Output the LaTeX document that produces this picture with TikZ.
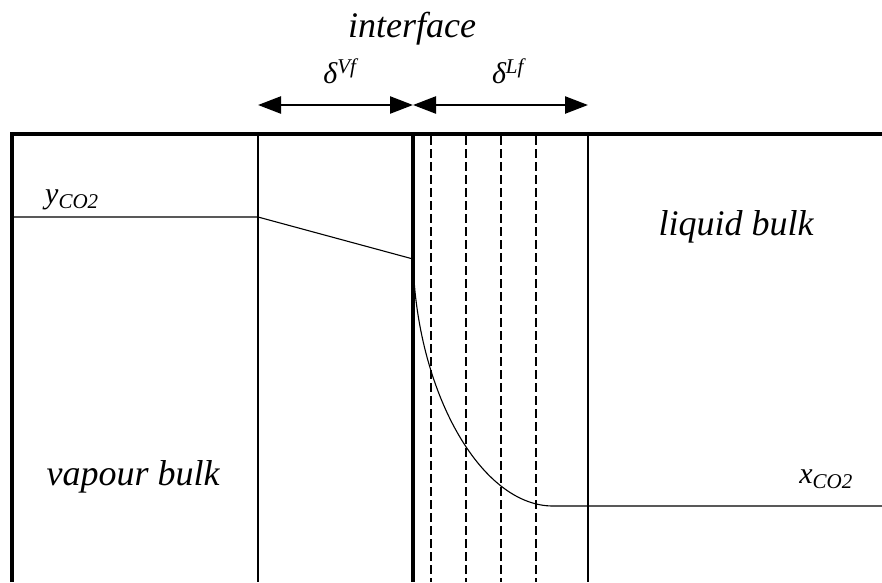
\documentclass[tikz,border=0pt]{standalone}
\usepackage{fontspec}
\setmainfont{Liberation Serif}
\usetikzlibrary{arrows.meta,calc,positioning}

\tikzset{
  wall/.style={line width=3.8pt},
  film/.style={line width=1.1pt},
  sublayer/.style={line width=1.4pt,dash pattern=on 9pt off 4pt},
  profile/.style={line width=1.1pt},
  width arrow/.style={line width=2.4pt,{Triangle[length=23pt,width=17pt]}-{Triangle[length=23pt,width=17pt]}},
  lbl/.style={font=\itshape\fontsize{36}{36}\selectfont,inner sep=0pt},
  sym/.style={font=\itshape\fontsize{30}{30}\selectfont,inner sep=0pt}
}

\begin{document}
\begin{tikzpicture}[x=1pt,y=-1pt]
  \useasboundingbox (0,0) rectangle (882,582);
  % walls and film boundaries
  \coordinate (tl) at (12,134);
  \coordinate (bl) at (12,582);
  \coordinate (tr) at (882,134);
  \coordinate (it) at (413,134);
  \coordinate (ib) at (413,582);
  \draw[wall] (bl) -- (tl) -- (tr);
  \draw[film] (258,134) -- (258,582);
  \draw[film] (588,134) -- (588,582);
  \foreach \x in {431,466,501,536} \draw[sublayer] (\x,136) -- (\x,582);
  % concentration profiles
  \coordinate (yl) at (12,217);
  \coordinate (yf) at (258,217);
  \coordinate (yi) at (413,259);
  \coordinate (xf) at (553,506);
  \coordinate (xr) at (882,506);
  \draw[profile] (yl) -- (yf) -- (yi);
  \draw[profile] (yi) .. controls (416,390) and (480,506) .. (xf) -- (xr);
  \draw[wall] (it) -- (ib);
  % film thickness arrows
  \coordinate (av) at (258,105);
  \coordinate (ai) at (413,105);
  \coordinate (al) at (588,105);
  \draw[width arrow] (av) -- (ai);
  \draw[width arrow] (ai) -- (al);
  \node[lbl,anchor=base] (iface) at (412,37) {interface};
  \node[sym,anchor=base] (dv) at (340,83) {δ\textsuperscript{Vf}};
  \node[sym,anchor=base] (dl) at (508,83) {δ\textsuperscript{Lf}};
  % labels
  \node[sym,anchor=base west] (yco) at (45,203) {y\textsubscript{CO2}};
  \node[sym,anchor=base east] (xco) at (853,483) {x\textsubscript{CO2}};
  \node[lbl,anchor=base] (liq) at (736,235) {liquid bulk};
  \node[lbl,anchor=base] (vap) at (133,485) {vapour bulk};
\end{tikzpicture}
\end{document}
